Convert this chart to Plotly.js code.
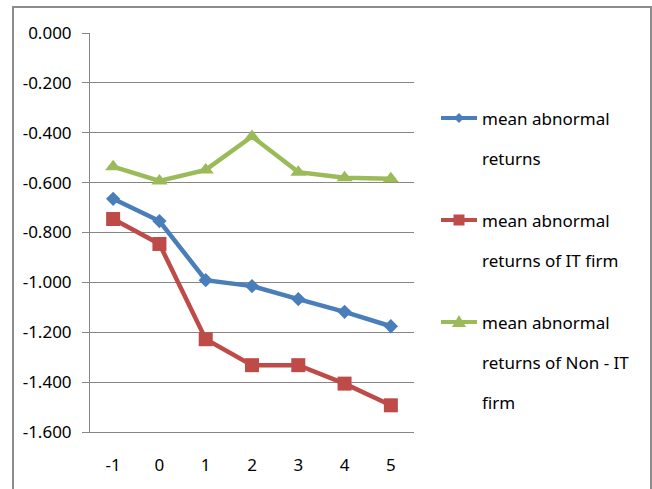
<!DOCTYPE html>
<html>
<head>
<meta charset="utf-8">
<script src="https://cdn.plot.ly/plotly-3.0.1.min.js"></script>
<style>html,body{margin:0;padding:0;background:#fff;} #chart{width:652px;height:489px;}</style>
</head>
<body>
<div id="chart"></div>
<script>
// ---- data ----
const categories = ["-1", "0", "1", "2", "3", "4", "5"];
const meanAbnormal = [-0.665, -0.754, -0.991, -1.015, -1.067, -1.118, -1.176];
const meanAbnormalIT = [-0.746, -0.846, -1.228, -1.332, -1.332, -1.406, -1.493];
const meanAbnormalNonIT = [-0.536, -0.593, -0.549, -0.415, -0.558, -0.580, -0.584];
const yTickVals = [0, -0.2, -0.4, -0.6, -0.8, -1.0, -1.2, -1.4, -1.6];
const yTickText = ["0.000", "-0.200", "-0.400", "-0.600", "-0.800", "-1.000", "-1.200", "-1.400", "-1.600"];
const seriesNames = [
  ["mean abnormal", "returns"],
  ["mean abnormal", "returns of IT firm"],
  ["mean abnormal", "returns of Non - IT", "firm"]
];

// ---- styling ----
const colors = ["#4A7EBB", "#BE4B48", "#9BBB59"];
const symbols = ["diamond", "square", "triangle-up"];
const msizes = [11, 14, 14];
const FONT = "Noto Sans, Open Sans, sans-serif";
const FS = 17;
const L = 90, R = 414, T = 33, B = 432, W = 652, H = 489;
const px = x => (x - L) / (R - L);
const py = y => (B - y) / (B - T);

const seriesData = [meanAbnormal, meanAbnormalIT, meanAbnormalNonIT];
const traces = seriesData.map((ys, i) => ({
  type: "scatter", mode: "lines+markers",
  x: categories, y: ys, name: seriesNames[i].join(" "),
  line: {color: colors[i], width: 4.5},
  marker: {symbol: symbols[i], size: msizes[i], color: colors[i]},
  showlegend: false, hoverinfo: "skip"
}));

// legend built from shapes + annotations
const legendY = [118, 220, 322];
const lineGap = 40;
const shapes = [];
const annotations = [];
const markerPaths = [
  "M -5 0 L 0 5 L 5 0 L 0 -5 Z",
  "M -5.5 -5.5 L 5.5 -5.5 L 5.5 5.5 L -5.5 5.5 Z",
  "M -7 -5 L 7 -5 L 0 7 Z"
];
legendY.forEach((y, i) => {
  shapes.push({type: "line", xref: "paper", yref: "paper",
    x0: px(441), x1: px(477), y0: py(y), y1: py(y),
    line: {color: colors[i], width: 4}});
  shapes.push({type: "path", xref: "paper", yref: "paper",
    xsizemode: "pixel", ysizemode: "pixel", xanchor: px(459), yanchor: py(y),
    path: markerPaths[i], fillcolor: colors[i], line: {width: 0}});
  seriesNames[i].forEach((t, j) => {
    annotations.push({xref: "paper", yref: "paper", x: px(480), y: py(y + j * lineGap),
      xanchor: "left", yanchor: "middle", showarrow: false, text: t,
      font: {family: FONT, size: FS, color: "#000"}});
  });
});
// outer frame
shapes.push({type: "rect", xref: "paper", yref: "paper",
  x0: px(13), x1: px(651), y0: py(520), y1: py(7),
  line: {color: "#8c8c8c", width: 2}, fillcolor: "rgba(0,0,0,0)"});

const layout = {
  width: W, height: H,
  margin: {l: L, r: W - R, t: T, b: H - B, pad: 0},
  paper_bgcolor: "#fff", plot_bgcolor: "#fff",
  font: {family: FONT, size: FS, color: "#000"},
  showlegend: false,
  xaxis: {
    type: "category", range: [-0.5, 6.5],
    showgrid: false, zeroline: false,
    showline: true, linecolor: "#868686", linewidth: 1,
    ticks: "", ticklabelstandoff: 18,
    tickfont: {family: FONT, size: FS, color: "#000"}
  },
  xaxis2: {
    overlaying: "x", anchor: "y", side: "top", type: "linear",
    range: [0, 7], tickmode: "linear", tick0: 0, dtick: 1,
    showgrid: false, zeroline: false, showticklabels: false,
    showline: true, linecolor: "#868686", linewidth: 1,
    ticks: "outside", ticklen: 7, tickcolor: "#868686", tickwidth: 1
  },
  yaxis: {
    range: [-1.6, 0], tickmode: "array", tickvals: yTickVals, ticktext: yTickText,
    showgrid: true, gridcolor: "#868686", gridwidth: 1, zeroline: false,
    showline: true, linecolor: "#868686", linewidth: 1,
    ticks: "outside", ticklen: 7, tickcolor: "#868686", tickwidth: 1,
    ticklabelstandoff: 7,
    tickfont: {family: FONT, size: FS, color: "#000"}
  },
  shapes: shapes,
  annotations: annotations
};

Plotly.newPlot("chart", traces, layout, {staticPlot: true, displayModeBar: false});
</script>
</body>
</html>
